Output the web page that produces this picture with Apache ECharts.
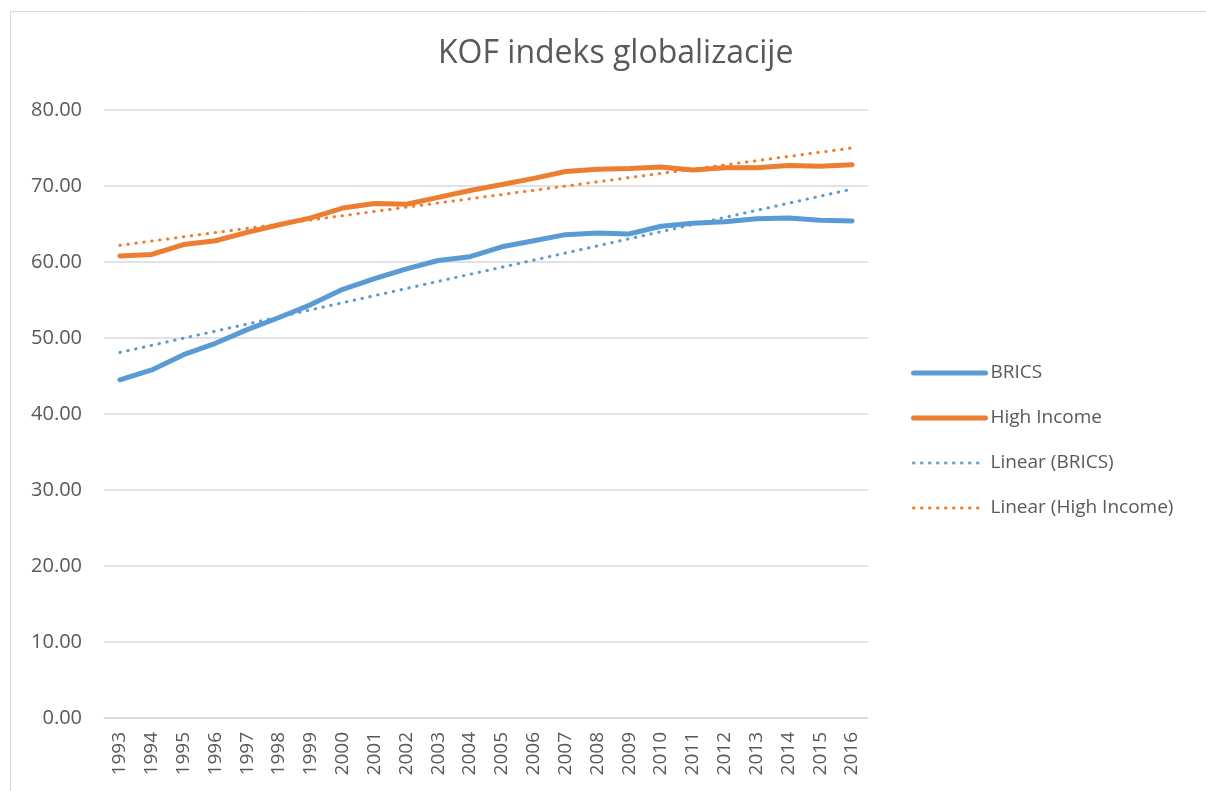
<!DOCTYPE html>
<html>
<head>
<meta charset="utf-8">
<title>KOF indeks globalizacije</title>
<script src="https://cdn.jsdelivr.net/npm/echarts@6/dist/echarts.min.js"></script>
<style>
  html, body { margin: 0; padding: 0; background: #fff; }
  #chart { width: 1206px; height: 791px; }
</style>
</head>
<body>
<div id="chart"></div>
<script>
// godine
const years = ['1993', '1994', '1995', '1996', '1997', '1998', '1999', '2000',
  '2001', '2002', '2003', '2004', '2005', '2006', '2007', '2008',
  '2009', '2010', '2011', '2012', '2013', '2014', '2015', '2016']

const brics = [44.5, 45.8, 47.8, 49.3, 51.1, 52.7, 54.4, 56.4,
  57.8, 59.1, 60.2, 60.7, 62.0, 62.8, 63.6, 63.8,
  63.7, 64.7, 65.1, 65.3, 65.7, 65.8, 65.5, 65.4]

const highIncome = [60.8, 61.0, 62.3, 62.8, 63.9, 64.9, 65.8, 67.1,
  67.7, 67.6, 68.5, 69.4, 70.2, 71.0, 71.9, 72.2,
  72.3, 72.5, 72.1, 72.4, 72.4, 72.7, 72.6, 72.8]

// trend lines, endpoints
const trendBrics = [48.1, 69.6]
const trendHigh = [62.2, 75.0]

const blue = '#5B9BD5'
const orange = '#ED7D31'
const textColor = '#595959'
const font = 'Open Sans'

const dotted = (color) => ({
  color: color,
  width: 3,
  type: [0.5, 7.5],
  cap: 'round',
})

const options = {
  animation: false,
  backgroundColor: '#fff',
  title: {
    text: 'KOF indeks globalizacije',
    left: 433,
    top: 33,
    textStyle: { color: textColor, fontSize: 32, fontWeight: 'normal', fontFamily: font },
  },
  graphic: [{
    type: 'rect',
    shape: { x: 10.5, y: 11.5, width: 1300, height: 900 },
    style: { fill: 'none', stroke: '#d9d9d9', lineWidth: 1 },
    silent: true,
  }],
  legend: {
    orient: 'vertical',
    left: 911,
    top: 363,
    padding: 0,
    itemWidth: 72,
    itemHeight: 20,
    itemGap: 25,
    itemStyle: { opacity: 0 },
    textStyle: { color: textColor, fontSize: 19, fontFamily: font, lineHeight: 20 },
    data: [
      { name: 'BRICS', lineStyle: { width: 5, cap: 'round' } },
      { name: 'High Income', lineStyle: { width: 5, cap: 'round' } },
      { name: 'Linear (BRICS)', lineStyle: { width: 3, cap: 'round' } },
      { name: 'Linear (High Income)', lineStyle: { width: 3, cap: 'round' } },
    ],
  },
  grid: { left: 104, right: 338, top: 110, bottom: 73 },
  xAxis: {
    type: 'category',
    data: years,
    boundaryGap: true,
    axisLine: { lineStyle: { color: '#d9d9d9', width: 1.5 } },
    axisTick: { show: false },
    axisLabel: { rotate: 90, color: textColor, fontSize: 19, fontFamily: font, margin: 14, interval: 0 },
  },
  yAxis: {
    type: 'value',
    min: 0,
    max: 80,
    interval: 10,
    axisLine: { show: false },
    axisTick: { show: false },
    splitLine: { lineStyle: { color: '#d9d9d9', width: 1.5 } },
    axisLabel: {
      color: textColor, fontSize: 20, fontFamily: font, margin: 22,
      formatter: (v) => v.toFixed(2),
    },
  },
  series: [
    {
      name: 'BRICS', type: 'line', data: brics, symbol: 'none',
      lineStyle: { color: blue, width: 5, cap: 'round', join: 'round' },
      itemStyle: { color: blue }, z: 3,
    },
    {
      name: 'High Income', type: 'line', data: highIncome, symbol: 'none',
      lineStyle: { color: orange, width: 5, cap: 'round', join: 'round' },
      itemStyle: { color: orange }, z: 3,
    },
    {
      name: 'Linear (BRICS)', type: 'line', symbol: 'none',
      data: [[years[0], trendBrics[0]], [years[years.length - 1], trendBrics[1]]],
      lineStyle: dotted(blue), itemStyle: { color: blue }, z: 2,
    },
    {
      name: 'Linear (High Income)', type: 'line', symbol: 'none',
      data: [[years[0], trendHigh[0]], [years[years.length - 1], trendHigh[1]]],
      lineStyle: dotted(orange), itemStyle: { color: orange }, z: 2,
    },
  ],
}

const chart = echarts.init(document.getElementById('chart'))
chart.setOption(options)
</script>
</body>
</html>
